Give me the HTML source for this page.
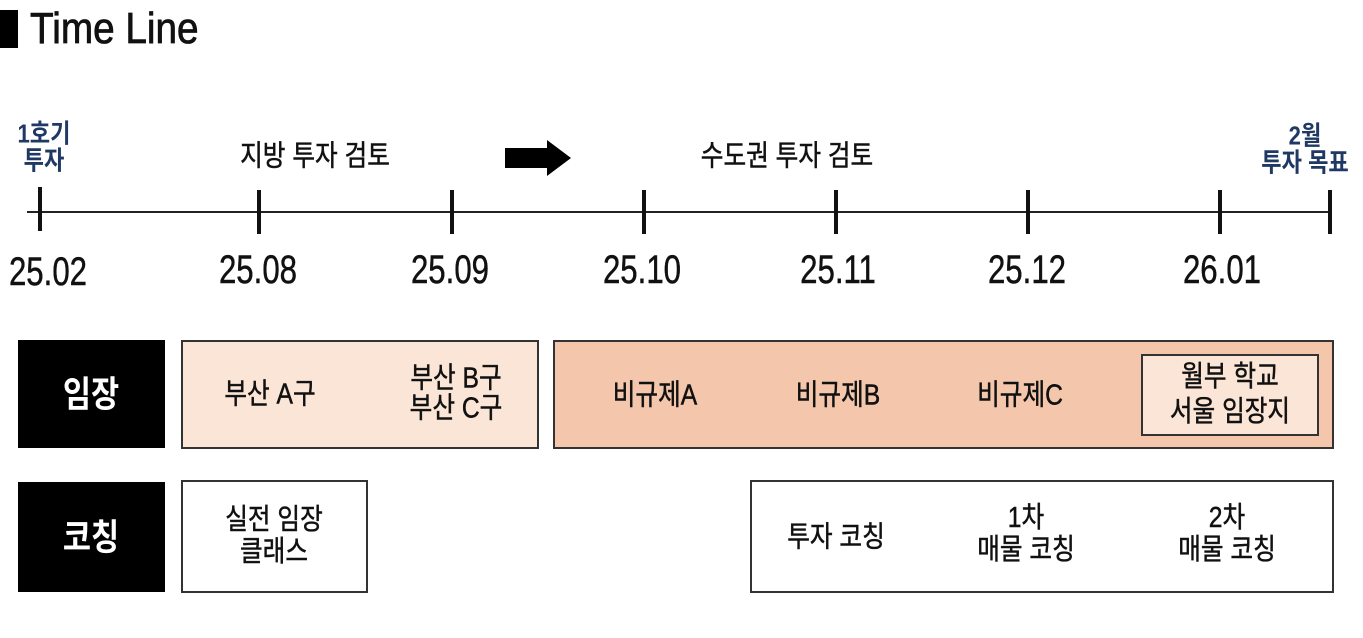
<!DOCTYPE html>
<html><head><meta charset="utf-8"><style>
body{margin:0;width:1363px;height:638px;background:#fff;position:relative;overflow:hidden;font-family:"Liberation Sans","Noto Sans CJK KR",sans-serif;color:#111}
.a{position:absolute}
.c{position:absolute;transform:translate(-50%,-50%) scaleX(.85);text-align:center;white-space:nowrap;line-height:1.15;-webkit-text-stroke:0.5px #111}
.t{position:absolute;background:#111;width:4px}
.d{font-size:40px;transform:translate(-50%,-50%) scaleX(.78)}
.k{font-size:29px}
.box{position:absolute;border:2px solid #333;box-sizing:border-box}
</style></head><body>
<div class="a" style="left:0;top:10px;width:18px;height:38px;background:#000"></div>
<div class="a" style="left:30px;top:4px;font-size:44px;transform-origin:0 0;transform:scaleX(.88);-webkit-text-stroke:0.8px #111">Time Line</div>

<div class="a" style="left:27px;top:211px;width:1303px;height:2px;background:#222"></div>
<div class="t" style="left:38px;top:187px;height:44px"></div>
<div class="t" style="left:257px;top:190px;height:44px"></div>
<div class="t" style="left:450px;top:190px;height:44px"></div>
<div class="t" style="left:642px;top:190px;height:44px"></div>
<div class="t" style="left:834px;top:190px;height:44px"></div>
<div class="t" style="left:1026px;top:190px;height:44px"></div>
<div class="t" style="left:1218px;top:190px;height:44px"></div>
<div class="t" style="left:1328px;top:190px;height:44px"></div>

<div class="c d" style="left:48px;top:272px">25.02</div>
<div class="c d" style="left:258px;top:270px">25.08</div>
<div class="c d" style="left:450px;top:270px">25.09</div>
<div class="c d" style="left:642px;top:270px">25.10</div>
<div class="c d" style="left:838px;top:270px">25.11</div>
<div class="c d" style="left:1027px;top:270px">25.12</div>
<div class="c d" style="left:1222px;top:270px">26.01</div>

<div class="c" style="left:44px;top:148px;font-size:26px;font-weight:bold;color:#1f3864;-webkit-text-stroke:0;line-height:1.05">1호기<br>투자</div>
<div class="c k" style="left:315px;top:157px">지방 투자 검토</div>
<svg class="a" style="left:503px;top:138px" width="72" height="40"><polygon points="2,10 44,10 44,2 68,20 44,38 44,30 2,30" fill="#000"/></svg>
<div class="c k" style="left:787px;top:157px">수도권 투자 검토</div>
<div class="c" style="left:1305px;top:150px;font-size:26px;font-weight:bold;color:#1f3864;-webkit-text-stroke:0;line-height:1.05">2월<br>투자 목표</div>

<div class="a" style="left:18px;top:340px;width:147px;height:108px;background:#000"></div>
<div class="c" style="left:91px;top:394px;color:#fff;font-size:36px;font-weight:bold;-webkit-text-stroke:0">임장</div>
<div class="box" style="left:181px;top:340px;width:358px;height:109px;background:#fbe5d6"></div>
<div class="c k" style="left:270px;top:395px">부산 A구</div>
<div class="c k" style="left:456px;top:394px;line-height:1.05">부산 B구<br>부산 C구</div>
<div class="box" style="left:553px;top:340px;width:781px;height:109px;background:#f4c7ad"></div>
<div class="c k" style="left:655px;top:396px">비규제A</div>
<div class="c k" style="left:838px;top:396px">비규제B</div>
<div class="c k" style="left:1020px;top:396px">비규제C</div>
<div class="box" style="left:1141px;top:354px;width:178px;height:82px;background:#fbe5d6"></div>
<div class="c k" style="left:1230px;top:395px;line-height:1.2">월부 학교<br>서울 임장지</div>

<div class="a" style="left:18px;top:482px;width:147px;height:110px;background:#000"></div>
<div class="c" style="left:91px;top:537px;color:#fff;font-size:36px;font-weight:bold;-webkit-text-stroke:0">코칭</div>
<div class="box" style="left:181px;top:480px;width:187px;height:113px;background:#fff"></div>
<div class="c k" style="left:274px;top:537px;line-height:1.1">실전 임장<br>클래스</div>
<div class="box" style="left:750px;top:480px;width:584px;height:113px;background:#fff"></div>
<div class="c k" style="left:836px;top:538px">투자 코칭</div>
<div class="c k" style="left:1026px;top:535px;line-height:1.1">1차<br>매물 코칭</div>
<div class="c k" style="left:1227px;top:535px;line-height:1.1">2차<br>매물 코칭</div>
</body></html>
